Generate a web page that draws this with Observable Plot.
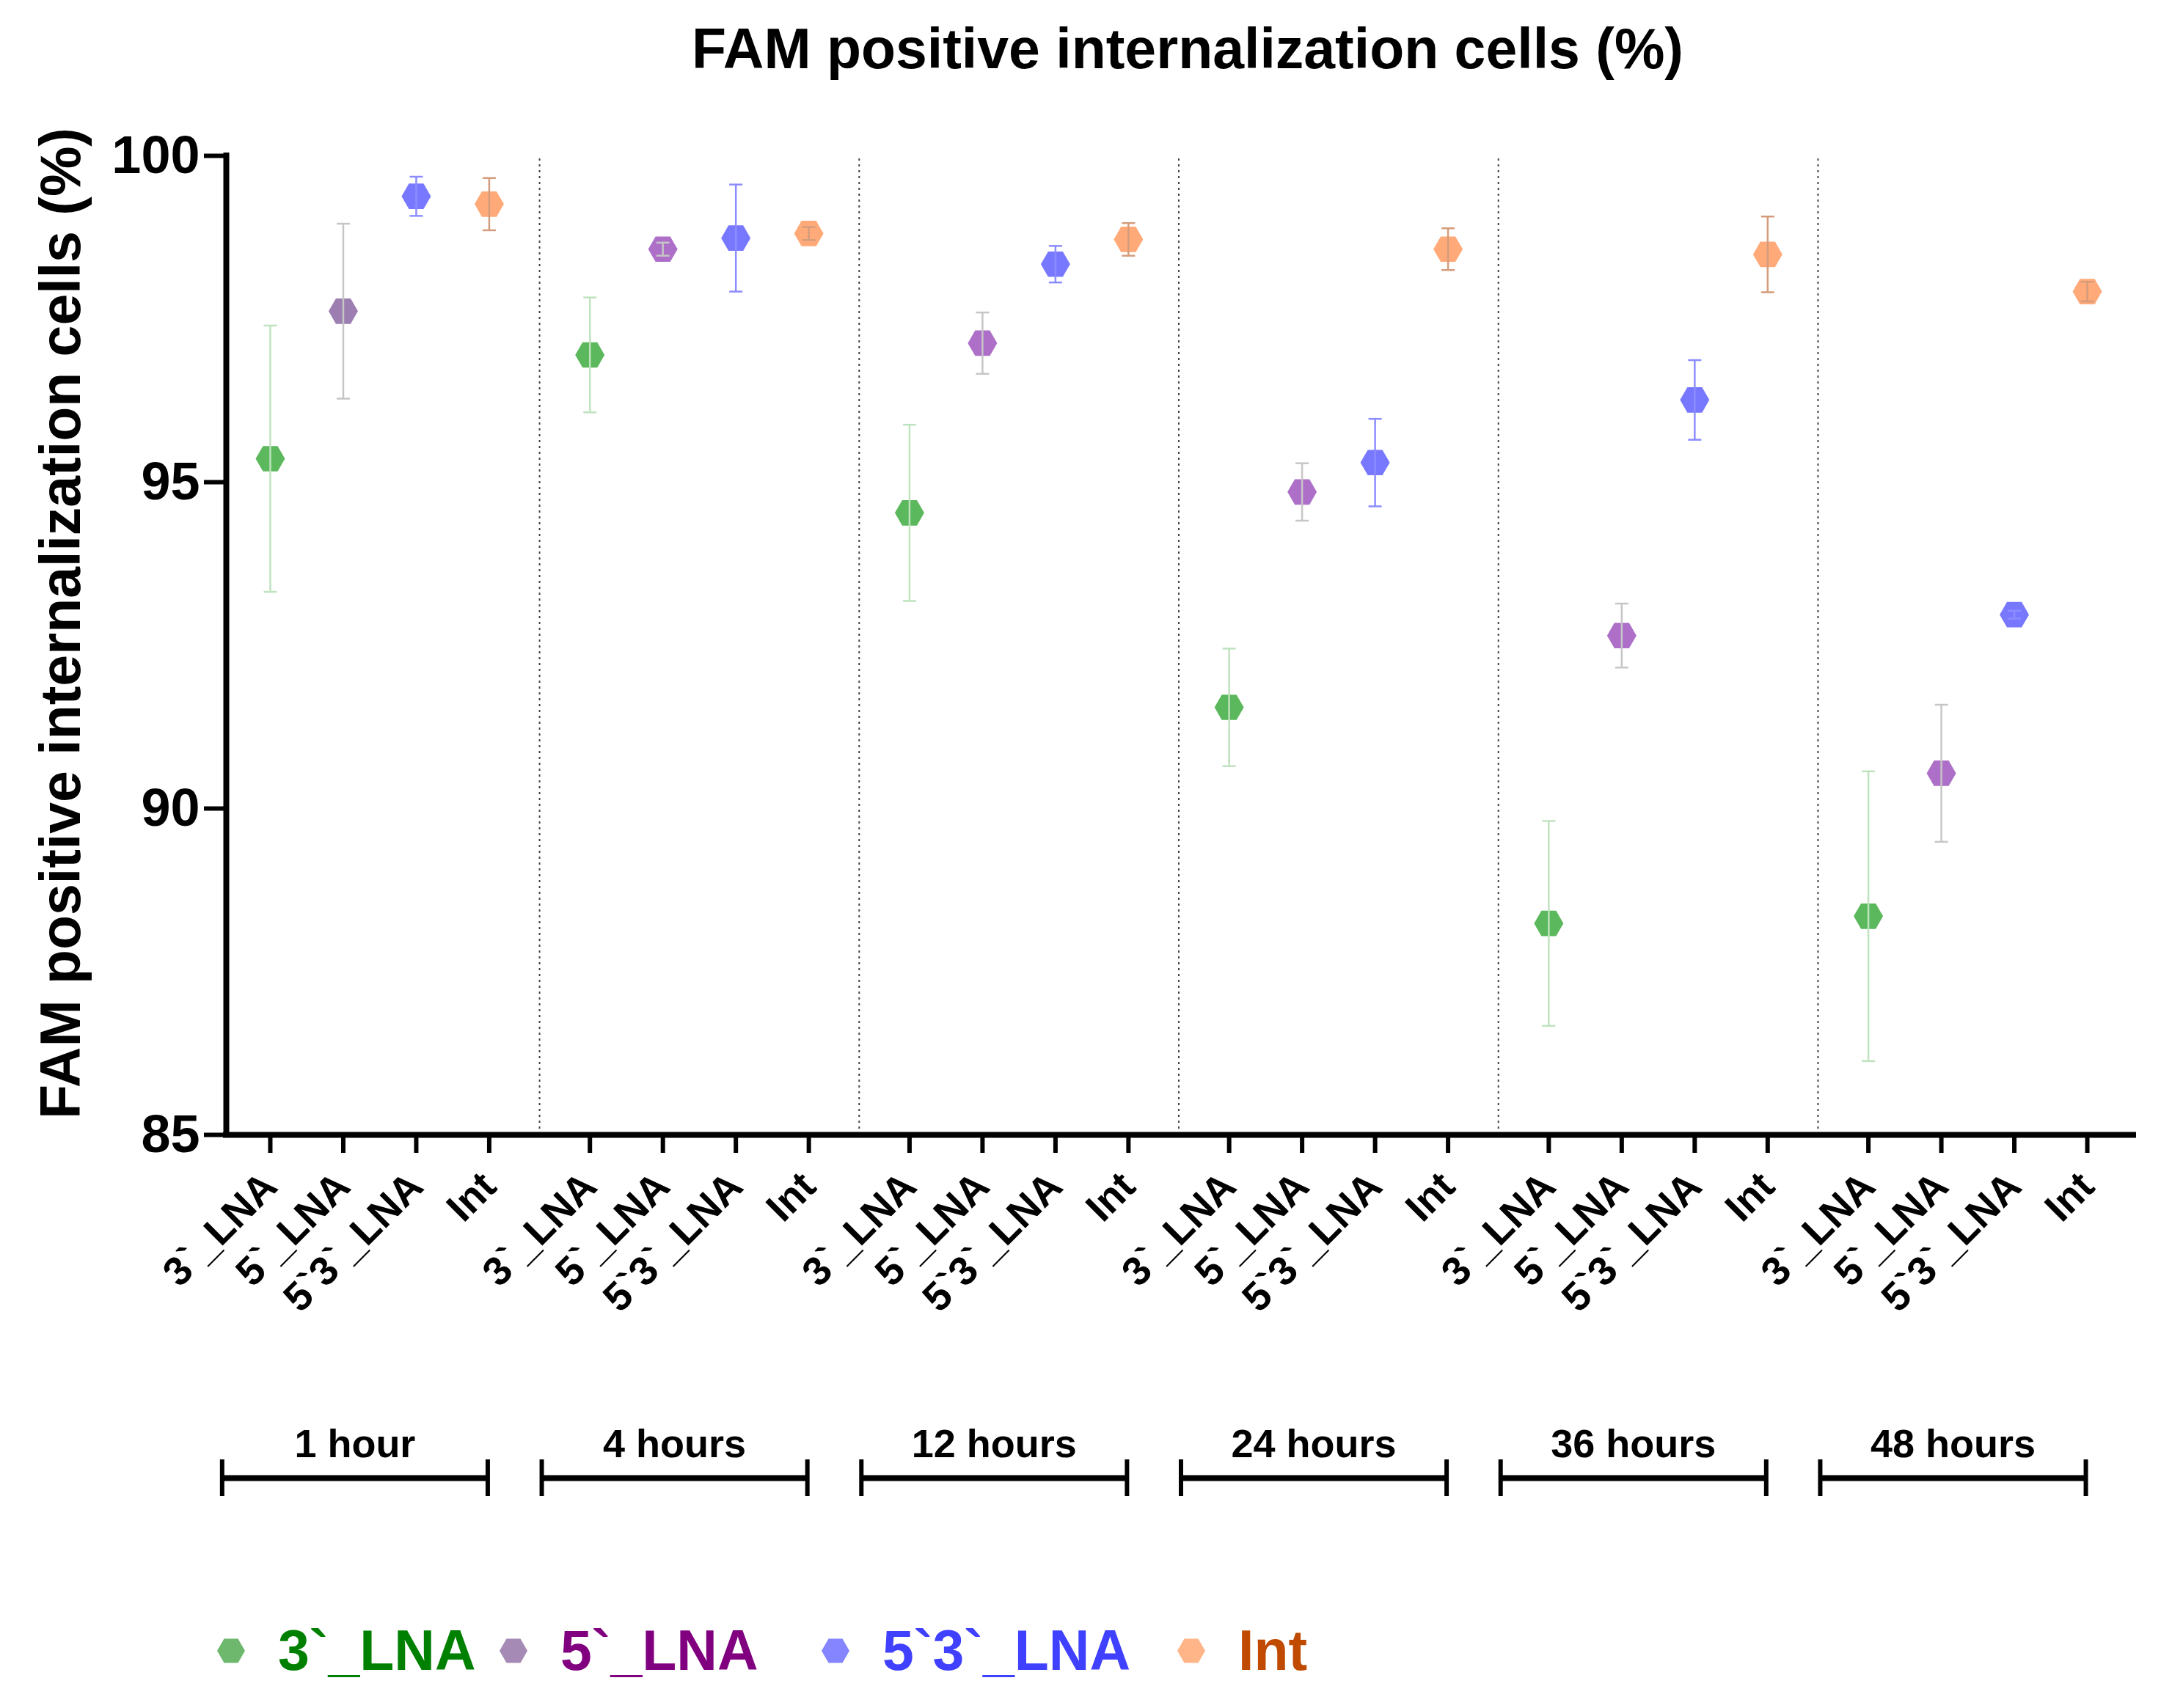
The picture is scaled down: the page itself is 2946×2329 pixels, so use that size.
<!DOCTYPE html>
<html><head><meta charset="utf-8">
<script src="https://cdn.jsdelivr.net/npm/d3@7"></script>
<script src="https://cdn.jsdelivr.net/npm/@observablehq/plot@0.6"></script>
<style>
body{margin:0;background:#fff;font-family:"Liberation Sans",Arial,sans-serif;}
#title{height:120px;box-sizing:border-box;padding-top:28px;margin-left:292px;width:2654px;text-align:center;font-size:77px;line-height:77px;font-weight:bold;color:#000;}
#chart svg,#brackets svg{display:block;}
#legend{display:flex;align-items:center;box-sizing:border-box;padding-top:166px;font-size:77px;line-height:77px;font-weight:bold;white-space:nowrap;}
#legend .item{display:flex;align-items:center;flex:none;}
#legend svg{display:block;margin-right:44px;flex:none;}
</style></head>
<body>
<div id="title">FAM positive internalization cells (%)</div>
<div id="chart"></div>
<div id="brackets"></div>
<div id="legend"></div>
<script>
// ---- data ----
const times = ["1 hour", "4 hours", "12 hours", "24 hours", "36 hours", "48 hours"];
const seriesNames = ["3`_LNA", "5`_LNA", "5`3`_LNA", "Int"];
const mean3 = [95.36, 96.95, 94.53, 91.55, 88.24, 88.35];
const err3 = [2.04, 0.88, 1.35, 0.90, 1.57, 2.22];
const mean5 = [97.62, 98.57, 97.13, 94.85, 92.65, 90.54];
const err5 = [1.34, 0.10, 0.47, 0.44, 0.49, 1.05];
const mean53 = [99.38, 98.74, 98.34, 95.30, 96.26, 92.97];
const err53 = [0.30, 0.82, 0.28, 0.67, 0.61, 0.06];
const meanInt = [99.26, 98.81, 98.72, 98.57, 98.49, 97.92];
const errInt = [0.40, 0.10, 0.25, 0.32, 0.58, 0.15];
const yTicks = [85, 90, 95, 100];

// ---- styles ----
const fillColors = {"3`_LNA": "#5cb85c", "5`_LNA": "#ad6fc8", "5`3`_LNA": "#7878ff", "Int": "#ffaa78"};
const fill5First = "#9c7fb0";
const errColors = {"3`_LNA": "#bfe3bf", "5`_LNA": "#c6c6c6", "5`3`_LNA": "#8c8cff", "Int": "#d49c7c"};
const legendMarker = {"3`_LNA": "#6db86d", "5`_LNA": "#a58ab5", "5`3`_LNA": "#8585ff", "Int": "#ffb588"};
const legendText = {"3`_LNA": "#008000", "5`_LNA": "#800080", "5`3`_LNA": "#4040ff", "Int": "#c04a00"};
const legendLeft = [295, 680, 1119, 1604, 1900];

const meansBy = {"3`_LNA": mean3, "5`_LNA": mean5, "5`3`_LNA": mean53, "Int": meanInt};
const errsBy = {"3`_LNA": err3, "5`_LNA": err5, "5`3`_LNA": err53, "Int": errInt};

// layout of the categorical axis
const groupStep = 4.38;
const rows = [];
times.forEach((t, g) => seriesNames.forEach((s, c) => {
  const m = meansBy[s][g], e = errsBy[s][g];
  rows.push({time: t, g, series: s, pos: g * groupStep + c, mean: m, lo: m - e, hi: m + e});
}));
const xDomain = [-0.603, (times.length - 1) * groupStep + 3 + 0.633];
const seps = times.slice(1).map((t, i) => (i + 1) * groupStep - 0.69);
const labelByPos = new Map(rows.map(d => [d.pos, d.series]));
const bracketRows = times.map((t, g) => ({time: t, start: g * groupStep - 0.66, end: g * groupStep + 2.98}));

const hexFlat = {
  draw(ctx, size) {
    const R = Math.sqrt(size / Math.PI);
    for (let k = 0; k < 6; k++) {
      const a = k * Math.PI / 3;
      const px = R * Math.cos(a), py = R * Math.sin(a);
      if (k === 0) ctx.moveTo(px, py); else ctx.lineTo(px, py);
    }
    ctx.closePath();
  }
};
const capSym = {
  draw(ctx, size) {
    const r = Math.sqrt(size / Math.PI);
    ctx.moveTo(-r, 0); ctx.lineTo(r, 0);
  }
};
const fillOf = d => (d.series === "5`_LNA" && d.g === 0) ? fill5First : fillColors[d.series];

const font = {fontFamily: "'Liberation Sans', Arial, sans-serif", fontWeight: "bold", background: "white", color: "black"};

const chart = Plot.plot({
  width: 2946, height: 1780,
  marginTop: 92, marginBottom: 353, marginLeft: 308, marginRight: 38,
  x: {domain: xDomain},
  y: {domain: [85, 100]},
  style: font,
  marks: [
    Plot.ruleX(seps, {x: d => d, y1: 85, y2: 100, stroke: "#444", strokeWidth: 2, strokeDasharray: "3,5"}),
    Plot.dot(rows, {x: "pos", y: "mean", symbol: hexFlat, r: 20, fill: fillOf, stroke: "none"}),
    Plot.ruleX(rows, {x: "pos", y1: "lo", y2: "hi", stroke: d => errColors[d.series], strokeWidth: 2.5}),
    Plot.dot(rows, {x: "pos", y: "hi", symbol: capSym, r: 9, stroke: d => errColors[d.series], strokeWidth: 2.5, fill: "none"}),
    Plot.dot(rows, {x: "pos", y: "lo", symbol: capSym, r: 9, stroke: d => errColors[d.series], strokeWidth: 2.5, fill: "none"}),
    Plot.axisY(yTicks, {tickSize: 30, tickPadding: 6, fontSize: 72, strokeWidth: 6, tickFormat: d => String(d), label: null}),
    Plot.axisX(rows.map(d => d.pos), {tickFormat: v => labelByPos.get(v), tickRotate: -45, fontSize: 55, tickSize: 25, tickPadding: 36, strokeWidth: 6, label: null}),
    Plot.ruleY([85], {stroke: "black", strokeWidth: 8, strokeLinecap: "square"}),
    Plot.ruleX([xDomain[0]], {stroke: "black", strokeWidth: 8, strokeLinecap: "square"}),
    Plot.text(["FAM positive internalization cells (%)"], {frameAnchor: "left", text: d => d, rotate: -90, textAnchor: "middle", lineAnchor: "middle", dx: -224, dy: -30, fontSize: 77, fontWeight: "bold", fill: "black"})
  ]
});
document.getElementById("chart").append(chart);

const brackets = Plot.plot({
  width: 2946, height: 146,
  marginTop: 90, marginBottom: 6, marginLeft: 308, marginRight: 38,
  x: {domain: xDomain, axis: null},
  y: {domain: [0, 1], axis: null},
  style: font,
  marks: [
    Plot.ruleY(bracketRows, {x1: "start", x2: "end", y: 0.5, stroke: "black", strokeWidth: 8}),
    Plot.ruleX(bracketRows, {x: "start", y1: 0, y2: 1, stroke: "black", strokeWidth: 6}),
    Plot.ruleX(bracketRows, {x: "end", y1: 0, y2: 1, stroke: "black", strokeWidth: 6}),
    Plot.text(bracketRows, {x: d => (d.start + d.end) / 2, y: 1, text: "time", lineAnchor: "bottom", dy: -4, fontSize: 54, fill: "black"})
  ]
});
document.getElementById("brackets").append(brackets);

const legend = d3.select("#legend");
seriesNames.forEach((s, i) => {
  const it = legend.append("div").attr("class", "item")
    .style("margin-left", (i === 0 ? legendLeft[0] : 0) + "px")
    .style("width", (legendLeft[i + 1] - legendLeft[i]) + "px");
  const svg = it.append("svg").attr("width", 40).attr("height", 36).attr("viewBox", "-20 -18 40 36");
  const p = d3.path(); hexFlat.draw(p, 19 * 19 * Math.PI);
  svg.append("path").attr("d", p.toString()).attr("fill", legendMarker[s]);
  it.append("span").style("color", legendText[s]).text(s);
});
</script>
</body></html>
